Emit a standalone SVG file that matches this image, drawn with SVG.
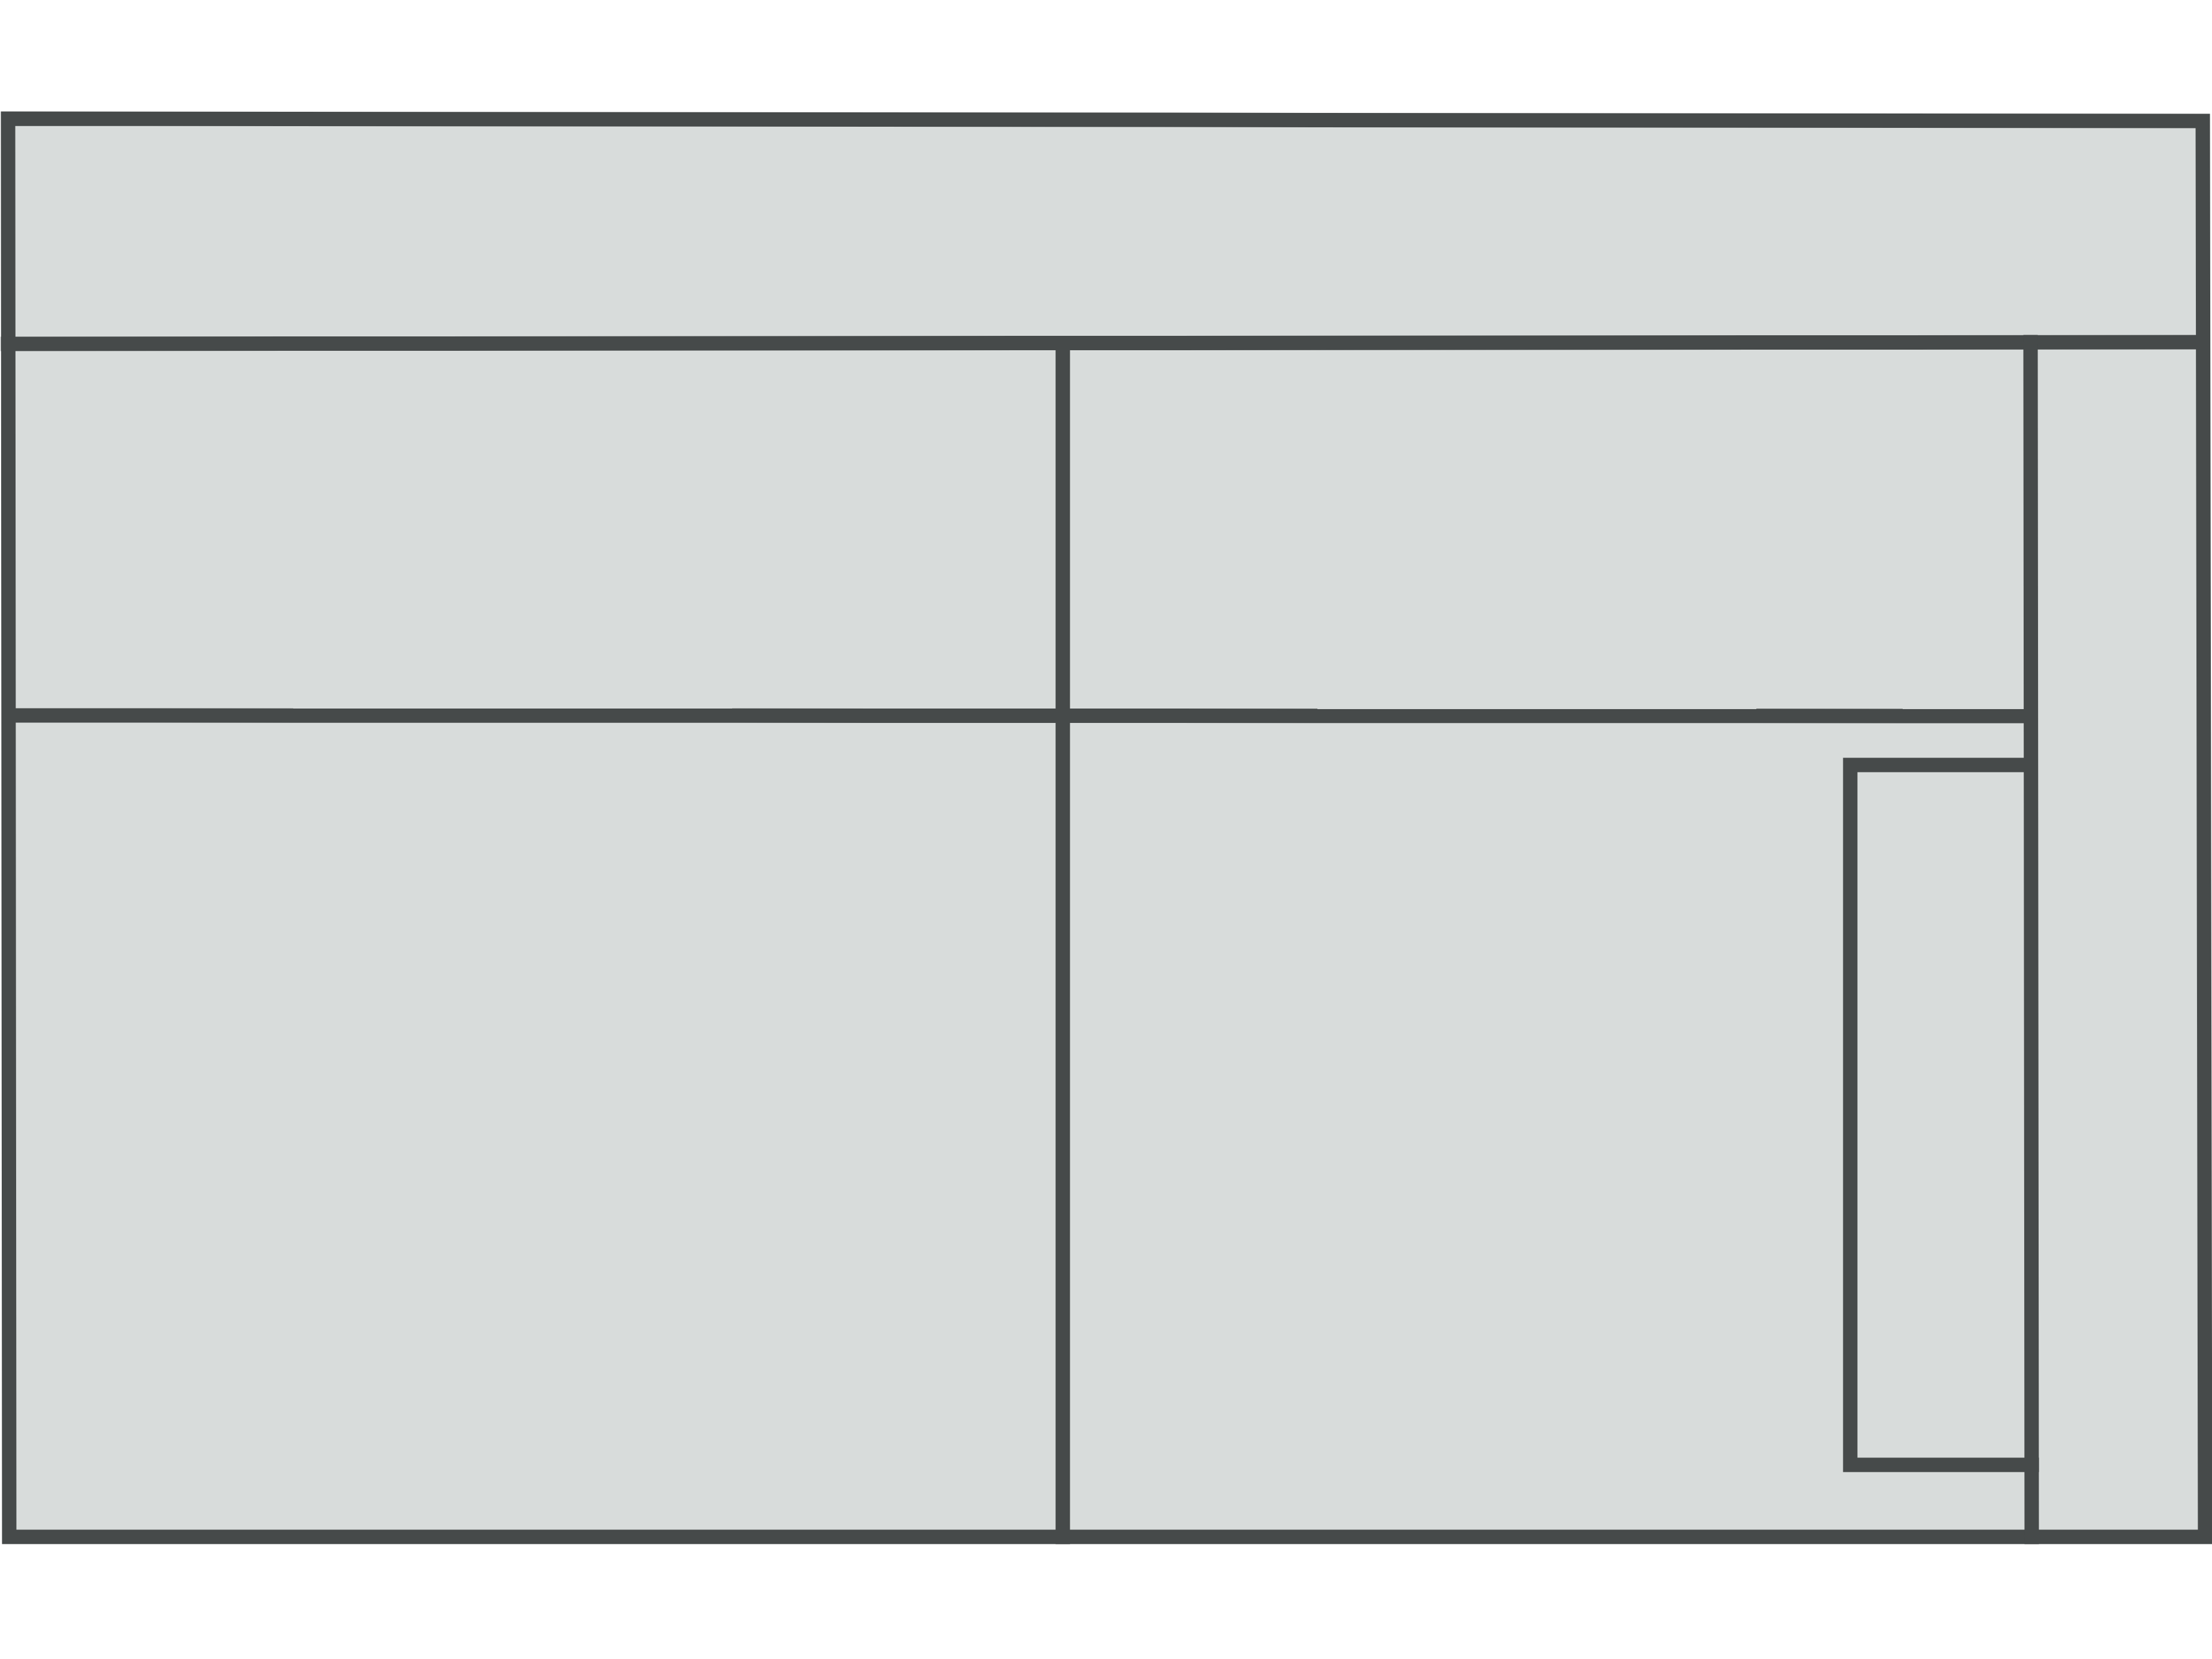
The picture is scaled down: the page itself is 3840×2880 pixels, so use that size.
<svg xmlns="http://www.w3.org/2000/svg" width="3840" height="2880" viewBox="0 0 3840 2880">
<style>
.wall{fill:none;stroke:#464a4a;stroke-width:25;stroke-linecap:square;stroke-linejoin:miter}
.floor{fill:#d8dcdb;stroke:none}
</style>
<rect width="3840" height="2880" fill="#ffffff"/>
<g id="plan">
<path class="floor" d="M14 206 L3824 210 L3828 2668 L16 2668 Z"/>
<path class="wall" d="M14 206 L3824 210 L3828 2668 L16 2668 Z"/>
<line class="wall" x1="14" y1="597" x2="3824" y2="594"/>
<line class="wall" x1="1845" y1="597" x2="1845" y2="2668"/>
<line class="wall" x1="16" y1="1242" x2="3525" y2="1243"/>
<line class="wall" x1="3525" y1="594" x2="3527" y2="2668"/>
<path class="wall" d="M3525 1328 L3212 1328 L3212 2543 L3527 2543"/>
</g>
</svg>
